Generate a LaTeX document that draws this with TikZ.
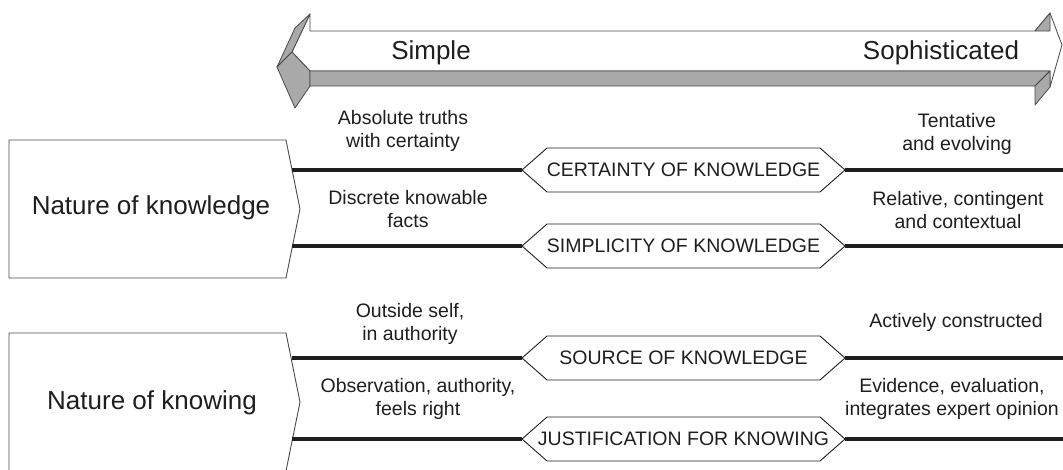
\documentclass[tikz,border=0pt]{standalone}
\usepackage{fontspec}
\setmainfont{Liberation Sans}

\definecolor{ink}{HTML}{1E1E1E}
\definecolor{shade}{HTML}{A9A9A9}
\definecolor{edge}{HTML}{4A4A4A}

\tikzset{
  big/.style={font=\fontsize{26}{30}\selectfont, text=ink, inner sep=0pt},
  note/.style={font=\fontsize{19.5}{22.5}\selectfont, text=ink, align=center, inner sep=0pt},
  hexbox/.style={font=\fontsize{19.5}{22.5}\selectfont, text=ink, inner sep=0pt},
  hexline/.style={draw=ink, line width=0.9pt, line join=miter},
  rule/.style={draw=ink, line width=4.4pt},
  boxline/.style={draw=edge, line width=0.9pt},
  arrowline/.style={draw=edge, line width=0.8pt, line join=round}
}

\begin{document}
\begin{tikzpicture}[x=1pt,y=-1pt]
\useasboundingbox (0,0) rectangle (1063,469);

\begin{scope}
\draw[arrowline, fill=white] (310,31) -- (1035,31) -- (1050,13) -- (1062,45) -- (1050,87)
   -- (1050,71) -- (310,71) -- (292,52) -- (310,14) -- cycle;
\draw[arrowline, fill=shade] (310,14) -- (295,28) -- (277,67) -- (292,52) -- cycle;
\draw[arrowline, fill=shade] (292,52) -- (277,67) -- (295,108) -- (310,86) -- (310,71) -- cycle;
\draw[arrowline, fill=shade] (310,71) -- (1050,71) -- (1035,86) -- (310,86) -- cycle;
\draw[arrowline, fill=shade] (1035,31) -- (1050,13) -- (1050,31) -- cycle;
\draw[arrowline, fill=shade] (1035,86) -- (1050,71) -- (1050,87) -- (1035,105) -- cycle;
\node[big, anchor=base] (simple) at (431,59) {Simple};
\node[big, anchor=base] (soph) at (941,59) {Sophisticated};
\end{scope}

\draw[boxline] (9,140) -- (286,140) -- (300,209) -- (286,278) -- (9,278) -- cycle;
\draw[boxline] (9,333) -- (286,333) -- (300,402) -- (286,471) -- (9,471) -- cycle;
\node[big, anchor=base] (knowledge) at (151,214) {Nature of knowledge};
\node[big, anchor=base] (knowing) at (152,409) {Nature of knowing};

\foreach \n/\y/\t in {cert/170/CERTAINTY OF KNOWLEDGE, simp/246/SIMPLICITY OF KNOWLEDGE,
                      src/358/SOURCE OF KNOWLEDGE, just/439/JUSTIFICATION FOR KNOWING}
{
   \node[hexbox] (\n) at (683.5,\y) {\t};
   \draw[hexline] (\n.center) ++(-161.5,0) coordinate (\n-w) -- ++(25,-22) -- ++(273,0)
      -- ++(25,22) coordinate (\n-e) -- ++(-25,22) -- ++(-273,0) -- cycle;
   \coordinate (\n-l) at (292,\y);
   \coordinate (\n-r) at (1063,\y);
   \draw[rule] (\n-l) -- (\n-w);
   \draw[rule] (\n-e) -- (\n-r);
}

\node[note] (absolute) at (403,131) {Absolute truths\\with certainty};
\node[note] (tentative) at (957,134) {Tentative\\and evolving};
\node[note] (discrete) at (408,209) {Discrete knowable\\facts};
\node[note] (relative) at (958,210) {Relative, contingent\\and contextual};
\node[note] (outside) at (410,324) {Outside self,\\in authority};
\node[note] (actively) at (956,322) {Actively constructed};
\node[note] (observation) at (418,399) {Observation, authority,\\feels right};
\node[note] (evidence) at (952,399) {Evidence, evaluation,\\integrates expert opinion};

\end{tikzpicture}
\end{document}
